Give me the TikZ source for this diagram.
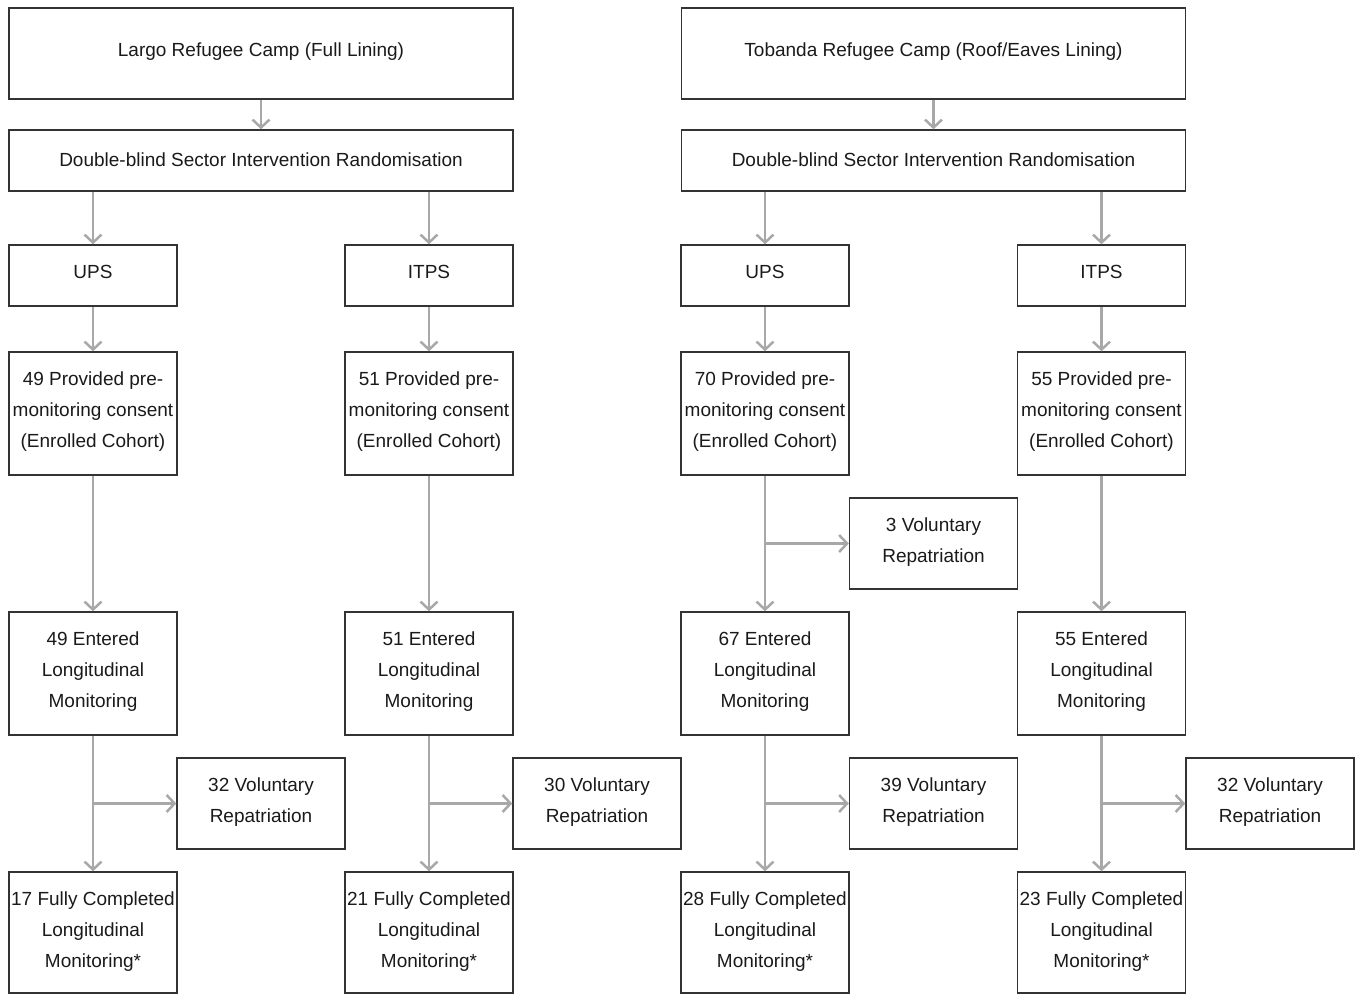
\documentclass[tikz,border=0pt]{standalone}
\usepackage{fontspec}
\setmainfont{Liberation Sans}
\usetikzlibrary{arrows.meta}
\definecolor{boxline}{HTML}{333333}
\definecolor{arrgrey}{HTML}{A8A8A8}
\definecolor{txt}{HTML}{1A1A1A}
\begin{document}
\begin{tikzpicture}[x=1pt,y=-1pt,
  box/.style={draw=boxline, line width=1.4pt, align=center, inner sep=0pt, text=txt,
    text depth=7.5pt, font=\fontsize{19}{31}\selectfont},
  wide/.style={box, minimum width=504pt},
  narrow/.style={box, minimum width=168pt},
  arr/.style={draw=arrgrey, line width=2.5pt, -{Straight Barb[length=8pt,width=17pt,line width=2.5pt]}}]
\useasboundingbox (0,0) rectangle (1361,995);
% camps
\node[wide, minimum height=91pt] (campL) at (261,53.5) {Largo Refugee Camp (Full Lining)};
\node[wide, minimum height=91pt] (campR) at (933.5,53.5) {Tobanda Refugee Camp (Roof/Eaves Lining)};
% randomisation
\node[wide, minimum height=61pt, text depth=1pt] (randL) at (261,160.5) {Double-blind Sector Intervention Randomisation};
\node[wide, minimum height=61pt, text depth=1pt] (randR) at (933.5,160.5) {Double-blind Sector Intervention Randomisation};
% arms
\node[narrow, minimum height=61pt] (armA) at (93,275.5) {UPS};
\node[narrow, minimum height=61pt] (armB) at (429,275.5) {ITPS};
\node[narrow, minimum height=61pt] (armC) at (765,275.5) {UPS};
\node[narrow, minimum height=61pt] (armD) at (1101.5,275.5) {ITPS};
% consent
\node[narrow, minimum height=123pt] (conA) at (93,413.5) {49 Provided pre-\\monitoring consent\\(Enrolled Cohort)};
\node[narrow, minimum height=123pt] (conB) at (429,413.5) {51 Provided pre-\\monitoring consent\\(Enrolled Cohort)};
\node[narrow, minimum height=123pt] (conC) at (765,413.5) {70 Provided pre-\\monitoring consent\\(Enrolled Cohort)};
\node[narrow, minimum height=123pt] (conD) at (1101.5,413.5) {55 Provided pre-\\monitoring consent\\(Enrolled Cohort)};
% early repatriation
\node[narrow, minimum height=91pt] (repE) at (933.5,543.5) {3 Voluntary\\Repatriation};
% entered
\node[narrow, minimum height=123pt] (entA) at (93,673.5) {49 Entered\\Longitudinal\\Monitoring};
\node[narrow, minimum height=123pt] (entB) at (429,673.5) {51 Entered\\Longitudinal\\Monitoring};
\node[narrow, minimum height=123pt] (entC) at (765,673.5) {67 Entered\\Longitudinal\\Monitoring};
\node[narrow, minimum height=123pt] (entD) at (1101.5,673.5) {55 Entered\\Longitudinal\\Monitoring};
% repatriation
\node[narrow, minimum height=91pt] (repA) at (261,803.5) {32 Voluntary\\Repatriation};
\node[narrow, minimum height=91pt] (repB) at (597,803.5) {30 Voluntary\\Repatriation};
\node[narrow, minimum height=91pt] (repC) at (933.5,803.5) {39 Voluntary\\Repatriation};
\node[narrow, minimum height=91pt] (repD) at (1270,803.5) {32 Voluntary\\Repatriation};
% completed
\node[narrow, minimum height=121pt, text depth=6pt] (finA) at (93,932.5) {17 Fully Completed\\Longitudinal\\Monitoring*};
\node[narrow, minimum height=121pt, text depth=6pt] (finB) at (429,932.5) {21 Fully Completed\\Longitudinal\\Monitoring*};
\node[narrow, minimum height=121pt, text depth=6pt] (finC) at (765,932.5) {28 Fully Completed\\Longitudinal\\Monitoring*};
\node[narrow, minimum height=121pt, text depth=6pt] (finD) at (1101.5,932.5) {23 Fully Completed\\Longitudinal\\Monitoring*};
% connectors
\draw[arr] (campL) -- (randL);
\draw[arr] (campR) -- (randR);
\foreach \r/\a in {randL/armA, randL/armB, randR/armC, randR/armD}
  \draw[arr] (\r.south -| \a.north) -- (\a.north);
\foreach \a/\c/\e in {armA/conA/entA, armB/conB/entB, armC/conC/entC, armD/conD/entD}{
  \draw[arr] (\a) -- (\c);
  \draw[arr] (\c) -- (\e);}
\draw[arr] (conC.south |- repE.west) -- (repE.west);
\foreach \e/\r/\f in {entA/repA/finA, entB/repB/finB, entC/repC/finC, entD/repD/finD}{
  \draw[arr] (\e) -- (\f);
  \draw[arr] (\e.south |- \r.west) -- (\r.west);}
\end{tikzpicture}
\end{document}
